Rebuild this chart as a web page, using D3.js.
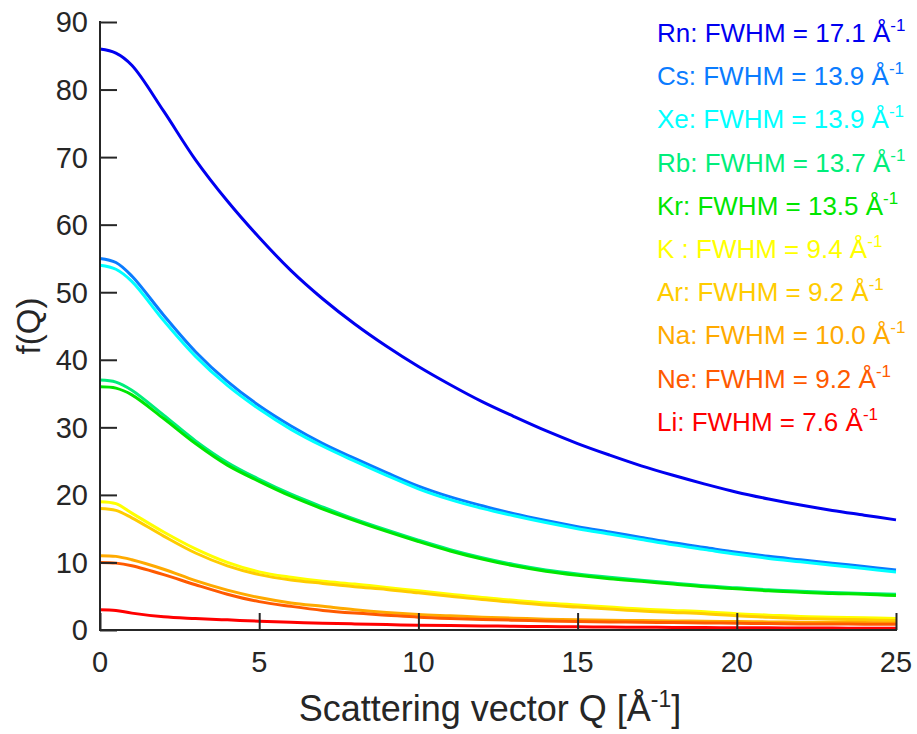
<!DOCTYPE html>
<html>
<head>
<meta charset="utf-8">
<script src="https://cdn.jsdelivr.net/npm/d3@7"></script>
<style>
  body { margin: 0; background: #fff; }
  svg text { font-family: "Liberation Sans", Arial, Helvetica, sans-serif; }
</style>
</head>
<body>
<svg id="chart" width="917" height="734"></svg>
<script>
// Q grid (Å^-1)
var qValues = [0, 0.5, 1, 2, 3, 4, 5, 6, 7, 8, 9, 10, 11, 12, 13, 14, 15, 16, 17, 18, 19, 20, 21, 22, 23, 24, 25];

// f(Q) per element
var rnValues = [86, 85.4, 83.6, 76.8, 69.6, 63.5, 58.1, 53.2, 49.0, 45.3, 42.0, 39.0, 36.3, 33.8, 31.6, 29.5, 27.6, 25.9, 24.3, 22.9, 21.6, 20.4, 19.4, 18.5, 17.7, 17.0, 16.3];
var csValues = [55, 54.4, 52.4, 46.6, 41.2, 36.8, 33.2, 30.2, 27.6, 25.4, 23.3, 21.3, 19.7, 18.4, 17.2, 16.2, 15.3, 14.5, 13.7, 12.9, 12.2, 11.5, 10.9, 10.4, 9.9, 9.4, 8.9];
var xeValues = [54, 53.4, 51.6, 45.8, 40.5, 36.2, 32.7, 29.7, 27.2, 25.0, 22.9, 20.9, 19.3, 18.0, 16.9, 15.9, 15.0, 14.2, 13.4, 12.6, 11.9, 11.2, 10.6, 10.1, 9.6, 9.1, 8.6];
var rbValues = [37, 36.7, 35.5, 31.8, 28.0, 24.8, 22.3, 20.1, 18.2, 16.4, 14.8, 13.3, 11.9, 10.7, 9.7, 8.9, 8.3, 7.8, 7.35, 6.95, 6.55, 6.25, 5.95, 5.75, 5.55, 5.4, 5.3];
var krValues = [36, 35.8, 34.8, 31.3, 27.6, 24.4, 22.0, 19.8, 17.9, 16.2, 14.6, 13.1, 11.7, 10.5, 9.5, 8.7, 8.1, 7.6, 7.2, 6.8, 6.4, 6.1, 5.8, 5.6, 5.4, 5.3, 5.1];
var kValues = [19, 18.7, 17.3, 14.5, 12.0, 10.0, 8.6, 7.8, 7.2, 6.8, 6.3, 5.8, 5.3, 4.8, 4.4, 4.0, 3.7, 3.4, 3.1, 2.9, 2.7, 2.4, 2.2, 2.0, 1.9, 1.8, 1.7];
var arValues = [18, 17.7, 16.6, 13.9, 11.4, 9.5, 8.2, 7.4, 6.9, 6.4, 6.0, 5.5, 5.0, 4.5, 4.1, 3.7, 3.4, 3.1, 2.8, 2.6, 2.4, 2.1, 1.9, 1.7, 1.6, 1.5, 1.4];
var naValues = [11, 10.9, 10.4, 9.0, 7.3, 5.9, 4.8, 4.0, 3.5, 3.0, 2.6, 2.3, 2.1, 1.9, 1.75, 1.6, 1.5, 1.45, 1.4, 1.35, 1.3, 1.25, 1.2, 1.15, 1.1, 1.1, 1.05];
var neValues = [10, 9.9, 9.5, 8.2, 6.7, 5.3, 4.2, 3.5, 2.9, 2.5, 2.2, 1.9, 1.7, 1.55, 1.45, 1.35, 1.25, 1.2, 1.15, 1.1, 1.05, 1.0, 0.95, 0.9, 0.9, 0.85, 0.85];
var liValues = [3.0, 2.9, 2.5, 1.95, 1.7, 1.5, 1.3, 1.15, 1.0, 0.9, 0.8, 0.7, 0.65, 0.6, 0.55, 0.5, 0.47, 0.44, 0.41, 0.38, 0.36, 0.34, 0.32, 0.3, 0.28, 0.27, 0.25];

// legend entries
var elementNames = ["Rn", "Cs", "Xe", "Rb", "Kr", "K ", "Ar", "Na", "Ne", "Li"];
var fwhmValues = ["17.1", "13.9", "13.9", "13.7", "13.5", "9.4", "9.2", "10.0", "9.2", "7.6"];
var seriesColors = ["#0000f0", "#0a7cff", "#00ffff", "#00ee7a", "#00e600", "#ffff00", "#ffcc00", "#ffaa00", "#ff5a00", "#ff0000"];

// axis ticks
var xTickValues = [0, 5, 10, 15, 20, 25];
var yTickValues = [0, 10, 20, 30, 40, 50, 60, 70, 80, 90];

var allSeries = [rnValues, csValues, xeValues, rbValues, krValues, kValues, arValues, naValues, neValues, liValues];

var svg = d3.select("#chart");
var margin = { top: 22, right: 21, bottom: 104, left: 100 };
var width = 917, height = 734;
var axisColor = "#262626";

var x = d3.scaleLinear().domain([0, 25]).range([margin.left, width - margin.right]);
var y = d3.scaleLinear().domain([0, 90]).range([height - margin.bottom, margin.top]);

// curves (drawn first, axes on top like matlab)
var line = d3.line()
    .x(function (d) { return x(d[0]); })
    .y(function (d) { return y(d[1]); })
    .curve(d3.curveCatmullRom.alpha(0.5));

svg.append("g")
    .selectAll("path")
    .data(allSeries)
    .join("path")
    .attr("fill", "none")
    .attr("stroke", function (d, i) { return seriesColors[i]; })
    .attr("stroke-width", 3)
    .attr("stroke-linejoin", "round")
    .attr("d", function (vals) {
        return line(vals.map(function (v, j) { return [qValues[j], v]; }));
    });

// x axis, ticks pointing inward
var xAxis = d3.axisTop(x).tickValues(xTickValues).tickSize(17).tickFormat("");
var gx = svg.append("g")
    .attr("transform", "translate(0," + y(0) + ")")
    .call(xAxis);
gx.select(".domain").remove();
gx.selectAll("line").attr("stroke", axisColor).attr("stroke-width", 2);
gx.append("line")
    .attr("x1", x(0) - 1).attr("x2", x(25) + 1)
    .attr("stroke", axisColor).attr("stroke-width", 2);

svg.append("g")
    .selectAll("text")
    .data(xTickValues)
    .join("text")
    .attr("x", function (d) { return x(d); })
    .attr("y", 672)
    .attr("text-anchor", "middle")
    .attr("font-size", 29)
    .attr("fill", axisColor)
    .text(function (d) { return d; });

// y axis
var yAxis = d3.axisRight(y).tickValues(yTickValues).tickSize(17).tickFormat("");
var gy = svg.append("g")
    .attr("transform", "translate(" + x(0) + ",0)")
    .call(yAxis);
gy.select(".domain").remove();
gy.selectAll("line").attr("stroke", axisColor).attr("stroke-width", 2);
gy.append("line")
    .attr("y1", y(90) - 1).attr("y2", y(0) + 1)
    .attr("stroke", axisColor).attr("stroke-width", 2);

svg.append("g")
    .selectAll("text")
    .data(yTickValues)
    .join("text")
    .attr("x", 88)
    .attr("y", function (d) { return y(d); })
    .attr("dy", "0.36em")
    .attr("text-anchor", "end")
    .attr("font-size", 29)
    .attr("fill", axisColor)
    .text(function (d) { return d; });

// axis titles
var xt = svg.append("text")
    .attr("x", 490)
    .attr("y", 721)
    .attr("text-anchor", "middle")
    .attr("font-size", 36)
    .attr("fill", axisColor);
xt.append("tspan").text("Scattering vector Q [Å");
xt.append("tspan").attr("font-size", 23).attr("dy", -14).text("-1");
xt.append("tspan").attr("dy", 14).text("]");

svg.append("text")
    .attr("transform", "translate(40," + ((y(0) + y(90)) / 2) + ") rotate(-90)")
    .attr("text-anchor", "middle")
    .attr("font-size", 33)
    .attr("fill", axisColor)
    .text("f(Q)");

// legend text
var leg = svg.append("g")
    .selectAll("text")
    .data(elementNames)
    .join("text")
    .attr("x", 657)
    .attr("y", function (d, i) { return 42 + i * 43.2; })
    .attr("font-size", 26)
    .attr("fill", function (d, i) { return seriesColors[i]; })
    .attr("xml:space", "preserve");
leg.append("tspan").text(function (d, i) { return d + ": FWHM = " + fwhmValues[i] + " Å"; });
leg.append("tspan").attr("font-size", 17).attr("dy", -11).text("-1");
</script>
</body>
</html>
